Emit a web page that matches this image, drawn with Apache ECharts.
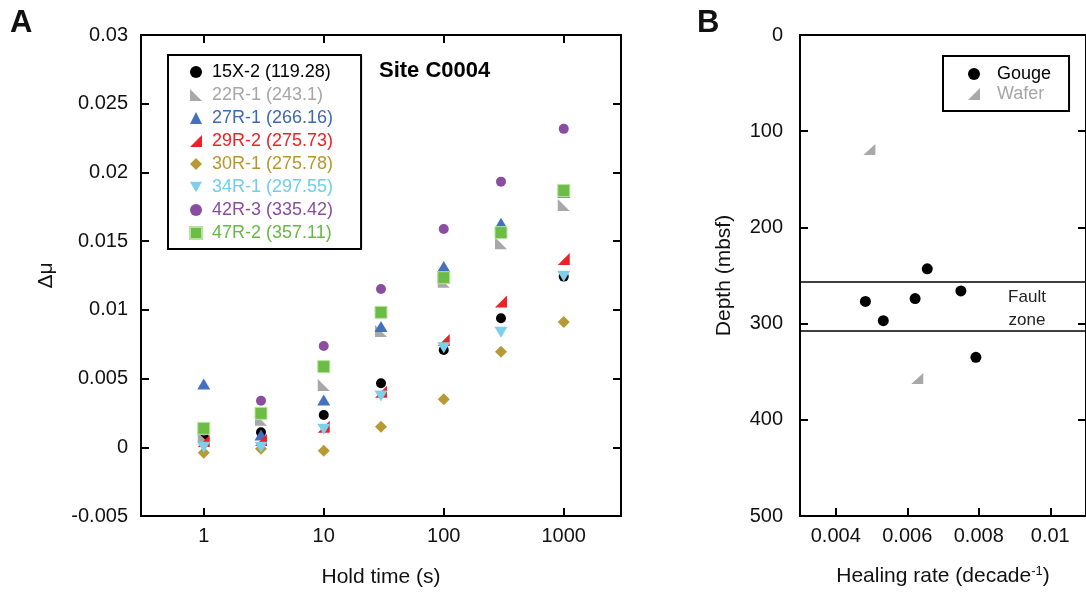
<!DOCTYPE html>
<html>
<head>
    <meta charset="UTF-8">
    <title>Healing - Site C0004</title>
    <script src="https://cdn.jsdelivr.net/npm/echarts@6/dist/echarts.min.js"></script>
    <style>
        body { margin: 0; background: #fff; }
        #main { width: 1086px; height: 596px; }
    </style>
</head>
<body>
<div id="main"></div>
<script>
    // panel A: hold time vs delta mu
    var holdTimes = [1, 3, 10, 30, 100, 300, 1000];
    var s15X2 = [0.0008, 0.0011, 0.00235, 0.00466, 0.00708, 0.00939, 0.01242];
    var s22R1 = [0.00065, 0.0020, 0.00453, 0.00846, 0.01205, 0.01485, 0.01763];
    var s27R1 = [0.0046, 0.0009, 0.00344, 0.00878, 0.01315, 0.0163, 0.01855];
    var s29R2 = [0.00046, 0.00053, 0.0015, 0.00405, 0.00781, 0.0106, 0.0137];
    var s30R1 = [-0.0004, -0.0001, -0.00025, 0.0015, 0.00349, 0.00696, 0.00912];
    var s34R1 = [0.0, 0.0, 0.00131, 0.00373, 0.00725, 0.00837, 0.01245];
    var s42R3 = [0.0012, 0.00339, 0.00737, 0.01152, 0.01589, 0.01933, 0.02317];
    var s47R2 = [0.00138, 0.00247, 0.00587, 0.00982, 0.01234, 0.01562, 0.01868];
    var sampleNames = ['15X-2 (119.28)', '22R-1 (243.1)', '27R-1 (266.16)', '29R-2 (275.73)',
        '30R-1 (275.78)', '34R-1 (297.55)', '42R-3 (335.42)', '47R-2 (357.11)'];
    var xTicksA = [1, 10, 100, 1000];

    // panel B: healing rate vs depth
    var gougeRate = [0.00656, 0.0075, 0.00622, 0.00483, 0.00533, 0.00792];
    var gougeDepth = [243, 266, 274, 277, 297, 335];
    var waferRate = [0.00494, 0.00628];
    var waferDepth = [119, 357];
    var faultZone = [257, 307];
    var xTicksB = [0.004, 0.006, 0.008, 0.01];

    var font = 'Liberation Sans, Arial, Helvetica, sans-serif';
    var triLeft = 'path://M0,0 L0,10 L10,10 Z';      // right angle bottom-left
    var triRight = 'path://M10,0 L10,10 L0,10 Z';    // right angle bottom-right
    var triDown = 'path://M0,0 L10,0 L5,8.66 Z';

    var styles = [
        {data: s15X2, color: '#000000', text: '#000000', symbol: 'circle', size: 10},
        {data: s22R1, color: '#a8a8a8', text: '#a6a6a6', symbol: triLeft, size: [12, 12]},
        {data: s27R1, color: '#4470c0', text: '#3d68b6', symbol: 'triangle', size: [13, 11]},
        {data: s29R2, color: '#ee2126', text: '#ee2126', symbol: triRight, size: [12, 12]},
        {data: s30R1, color: '#b89a34', text: '#b8952f', symbol: 'diamond', size: [12, 12]},
        {data: s34R1, color: '#7dd0ea', text: '#6dcfe9', symbol: triDown, size: [13, 11]},
        {data: s42R3, color: '#8a4d9f', text: '#8a4d9f', symbol: 'circle', size: 10},
        {data: s47R2, color: '#6cbd45', text: '#67b945', symbol: 'rect', size: [12, 12]}
    ];

    var chart = echarts.init(document.getElementById('main'), null, {renderer: 'canvas'});

    var seriesList = [];
    styles.forEach(function (s, i) {
        seriesList.push({
            name: sampleNames[i],
            type: 'scatter',
            xAxisIndex: 0,
            yAxisIndex: 0,
            symbol: s.symbol,
            symbolSize: s.size,
            itemStyle: i === 7 ? {color: s.color, borderColor: '#b8e2a0', borderWidth: 1, opacity: 1}
                : {color: s.color, opacity: 1},
            data: holdTimes.map(function (t, j) { return [t, s.data[j]]; })
        });
    });
    seriesList.push({
        name: 'Gouge',
        type: 'scatter',
        xAxisIndex: 2,
        yAxisIndex: 2,
        symbol: 'circle',
        symbolSize: 11,
        itemStyle: {color: '#000', opacity: 1},
        data: gougeRate.map(function (r, j) { return [r, gougeDepth[j]]; }),
        markLine: {
            silent: true,
            symbol: 'none',
            label: {show: false},
            lineStyle: {color: '#000', width: 1.5, type: 'solid'},
            data: faultZone.map(function (d) { return {yAxis: d}; })
        }
    });
    seriesList.push({
        name: 'Wafer',
        type: 'scatter',
        xAxisIndex: 2,
        yAxisIndex: 2,
        symbol: triRight,
        symbolSize: [12, 11],
        itemStyle: {color: '#a8a8a8', opacity: 1},
        data: waferRate.map(function (r, j) { return [r, waferDepth[j]]; })
    });

    var axisLine = {show: true, onZero: false, lineStyle: {color: '#000', width: 2}};
    var tickIn = {show: true, inside: true, length: 8, lineStyle: {color: '#000', width: 2}};
    var labelStyle = {color: '#111', fontSize: 20, fontFamily: font};
    var plain = function (v) { return String(v); };

    var option = {
        backgroundColor: '#fff',
        animation: false,
        textStyle: {fontFamily: font},
        grid: [
            {left: 141, top: 35, width: 480, height: 481},
            {left: 800, top: 35, width: 288, height: 481}
        ],
        xAxis: [
            {
                type: 'log', gridIndex: 0, min: 0.3, max: 3000, position: 'bottom',
                name: 'Hold time (s)', nameLocation: 'middle', nameGap: 51,
                nameTextStyle: {fontSize: 21, color: '#111', fontFamily: font},
                axisLine: axisLine,
                axisTick: Object.assign({customValues: xTicksA}, tickIn),
                minorTick: {show: false},
                axisLabel: Object.assign({customValues: xTicksA, margin: 10, formatter: plain}, labelStyle),
                splitLine: {show: false}
            },
            {
                type: 'log', gridIndex: 0, min: 0.3, max: 3000, position: 'top',
                axisLine: axisLine,
                axisTick: Object.assign({customValues: xTicksA}, tickIn),
                axisLabel: {show: false},
                splitLine: {show: false}
            },
            {
                type: 'value', gridIndex: 1, min: 0.003, max: 0.011, position: 'bottom',
                name: '{n|Healing rate (decade}{s|-1}{n|)}', nameLocation: 'middle', nameGap: 49,
                nameTextStyle: {
                    rich: {
                        n: {fontSize: 21, color: '#111', fontFamily: font},
                        s: {fontSize: 13, color: '#111', fontFamily: font, verticalAlign: 'top', padding: [0, 0, 10, 0]}
                    }
                },
                axisLine: axisLine,
                axisTick: Object.assign({customValues: xTicksB}, tickIn),
                axisLabel: Object.assign({customValues: xTicksB, margin: 10, formatter: plain}, labelStyle),
                splitLine: {show: false}
            },
            {
                type: 'value', gridIndex: 1, min: 0.003, max: 0.011, position: 'top',
                axisLine: axisLine,
                axisTick: {show: false},
                axisLabel: {show: false},
                splitLine: {show: false}
            }
        ],
        yAxis: [
            {
                type: 'value', gridIndex: 0, min: -0.005, max: 0.03, interval: 0.005, position: 'left',
                name: 'Δμ', nameLocation: 'middle', nameGap: 84,
                nameTextStyle: {fontSize: 21, color: '#111', fontFamily: font},
                axisLine: axisLine,
                axisTick: tickIn,
                axisLabel: Object.assign({margin: 13}, labelStyle),
                splitLine: {show: false}
            },
            {
                type: 'value', gridIndex: 0, min: -0.005, max: 0.03, interval: 0.005, position: 'right',
                axisLine: axisLine,
                axisTick: tickIn,
                axisLabel: {show: false},
                splitLine: {show: false}
            },
            {
                type: 'value', gridIndex: 1, min: 0, max: 500, interval: 100, inverse: true, position: 'left',
                name: 'Depth (mbsf)', nameLocation: 'middle', nameGap: 65,
                nameTextStyle: {fontSize: 21, color: '#111', fontFamily: font},
                axisLine: axisLine,
                axisTick: tickIn,
                axisLabel: Object.assign({margin: 17}, labelStyle),
                splitLine: {show: false}
            },
            {
                type: 'value', gridIndex: 1, min: 0, max: 500, interval: 100, inverse: true, position: 'right',
                axisLine: axisLine,
                axisTick: tickIn,
                axisLabel: {show: false},
                splitLine: {show: false}
            }
        ],
        legend: [
            {
                orient: 'vertical', left: 168, top: 55,
                itemWidth: 12, itemHeight: 12, itemGap: 5,
                padding: [8, 28, 7, 21],
                borderColor: '#000', borderWidth: 2,
                selectedMode: false,
                data: sampleNames.map(function (n, i) {
                    return {name: n, textStyle: {color: styles[i].text, fontSize: 18, fontFamily: font, padding: [0, 0, 0, 5]}};
                })
            },
            {
                orient: 'vertical', left: 943, top: 56,
                itemWidth: 12, itemHeight: 12, itemGap: 2,
                padding: [9, 18, 8, 25],
                borderColor: '#000', borderWidth: 2,
                selectedMode: false,
                data: [
                    {name: 'Gouge', textStyle: {color: '#000', fontSize: 18, fontFamily: font, padding: [0, 0, 0, 12]}},
                    {name: 'Wafer', textStyle: {color: '#a6a6a6', fontSize: 18, fontFamily: font, padding: [0, 0, 0, 12]}}
                ]
            }
        ],
        graphic: [
            {type: 'text', left: 10, top: 8, style: {text: 'A', fontSize: 31, fontWeight: 'bold', fill: '#111', fontFamily: font}},
            {type: 'text', left: 697, top: 8, style: {text: 'B', fontSize: 31, fontWeight: 'bold', fill: '#111', fontFamily: font}},
            {type: 'text', left: 379, top: 60, style: {text: 'Site C0004', fontSize: 22, fontWeight: 'bold', fill: '#000', fontFamily: font}},
            {type: 'text', x: 1027, y: 309, style: {text: 'Fault\nzone', fontSize: 17, lineHeight: 23, fill: '#222', align: 'center', verticalAlign: 'middle', fontFamily: font}}
        ],
        series: seriesList
    };
    chart.setOption(option);
</script>
</body>
</html>
